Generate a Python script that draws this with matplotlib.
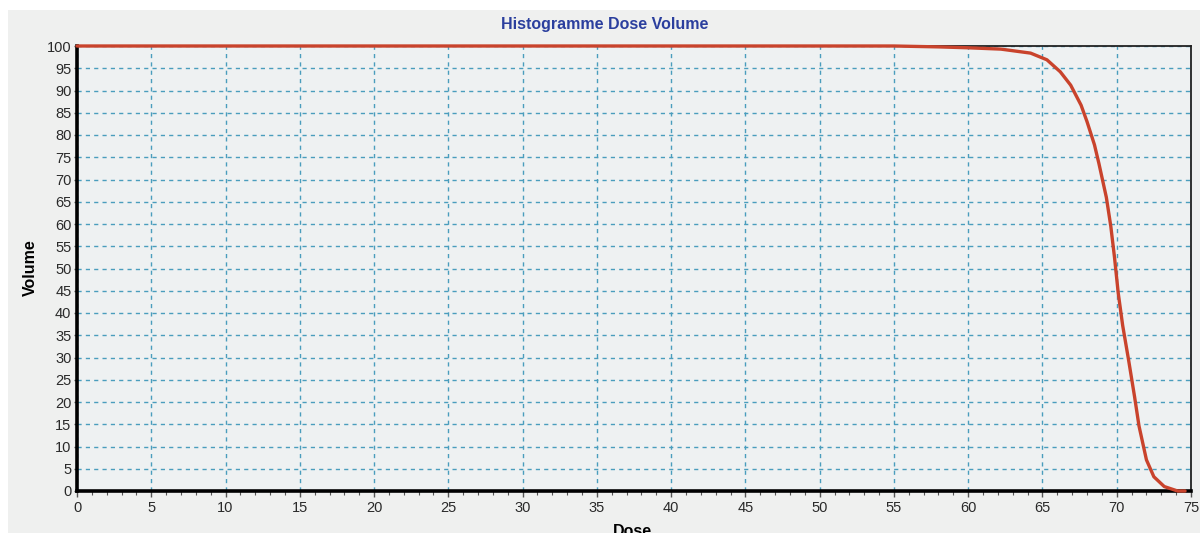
import matplotlib
matplotlib.use("Agg")
import matplotlib.pyplot as plt
from matplotlib.patches import Rectangle
from matplotlib.ticker import MultipleLocator

# dose (Gy) / volume (%)
dose = [0, 55, 58, 60, 62.2, 64.2, 65.3, 66.2, 66.9, 67.6, 68.0, 68.5, 68.8,
        69.3, 69.6, 69.85, 70.1, 70.4, 70.8, 71.2, 71.5, 72.0, 72.5,
        73.2, 74.1, 74.6]
volume = [100, 100, 99.8, 99.6, 99.3, 98.4, 96.9, 94.2, 91.2, 86.7, 83.0,
          77.8, 73.6, 66.0, 59.5, 52.5, 44.5, 37.2, 29.4, 21.2, 14.6, 7.0,
          3.2, 1.0, 0, 0]

title = "Histogramme Dose Volume"
xlabel = "Dose"
ylabel = "Volume"

plt.rcParams['font.family'] = ['Liberation Sans', 'DejaVu Sans']

fig = plt.figure(figsize=(12, 5.33), dpi=100, facecolor='white')
fig.patches.append(Rectangle((8 / 1200, 0), 1, 1 - 10 / 533,
                             transform=fig.transFigure, facecolor='#eff0ef',
                             edgecolor='none', zorder=-10))

ax = fig.add_axes([77 / 1200, 42 / 533, 1114 / 1200, 445 / 533])
ax.set_facecolor('#eef1f2')

ax.plot(dose, volume, color='#c9432c', lw=2.4, solid_capstyle='round',
        solid_joinstyle='round', zorder=5, clip_on=False)

ax.set_xlim(0, 75)
ax.set_ylim(0, 100)
ax.xaxis.set_major_locator(MultipleLocator(5))
ax.xaxis.set_minor_locator(MultipleLocator(1))
ax.yaxis.set_major_locator(MultipleLocator(5))

ax.grid(True, which='major', color='#4a9dbd', linestyle=(0, (3, 3)), lw=1)
ax.set_axisbelow(True)

for side in ['left', 'bottom']:
    ax.spines[side].set_linewidth(2.6)
    ax.spines[side].set_color('black')
for side in ['top', 'right']:
    ax.spines[side].set_linewidth(1.3)
    ax.spines[side].set_color('#222222')

ax.tick_params(axis='both', which='major', labelsize=10.5, labelcolor='#2a2a2a',
               direction='out', length=4, width=1, color='#555555', pad=3)
ax.tick_params(axis='x', which='minor', direction='out', length=3, width=0.8,
               color='#555555')
ax.tick_params(axis='y', which='major', length=2, pad=2)

fig.text(605 / 1200, 1 - 25 / 533, title, ha='center', va='center',
         fontsize=11.5, fontweight='bold', color='#2b3f9e')
fig.text(30 / 1200, 1 - 268 / 533, ylabel, ha='center', va='center',
         rotation=90, fontsize=11.5, fontweight='bold', color='black')
fig.text(632 / 1200, 1 - 531 / 533, xlabel, ha='center', va='center',
         fontsize=11.5, fontweight='bold', color='black')

fig.savefig("out.png", dpi=100, facecolor=fig.get_facecolor())
